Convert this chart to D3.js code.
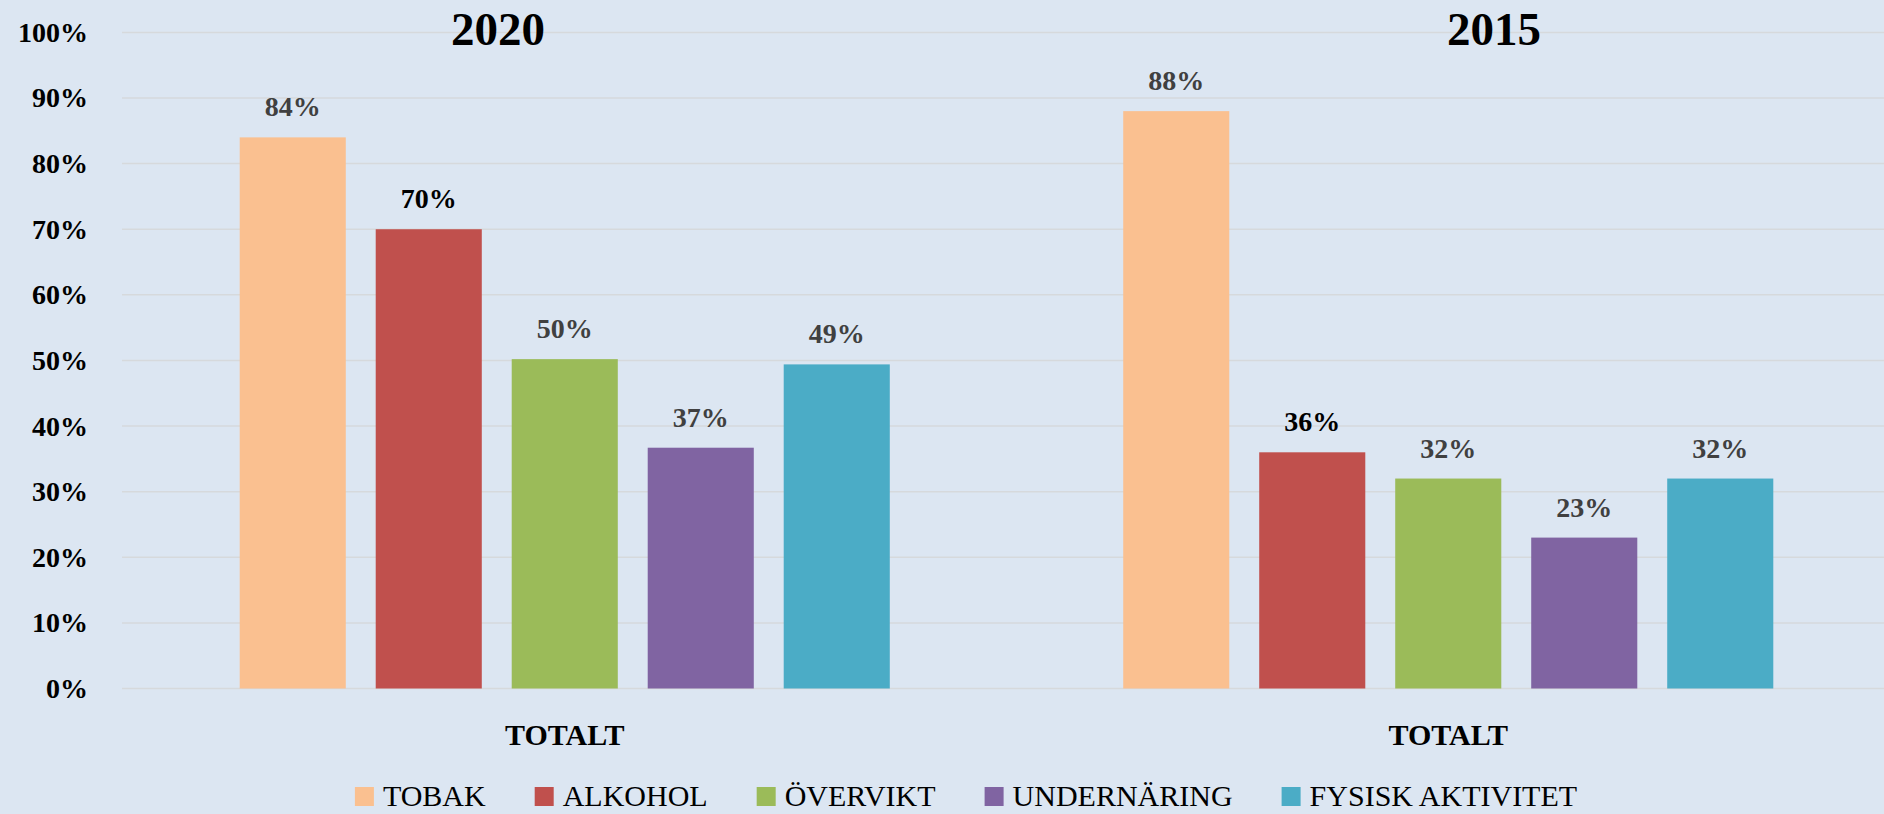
<!DOCTYPE html>
<html>
<head>
<meta charset="utf-8">
<script src="https://cdnjs.cloudflare.com/ajax/libs/d3/7.8.5/d3.min.js"></script>
<style>
body { margin: 0; background: #dce6f2; }
svg { display: block; font-family: "Liberation Serif", "DejaVu Serif", serif; }
</style>
</head>
<body>
<svg id="chart" width="1884" height="814"></svg>
<script>
var years = ["2020", "2015"]
var categories = ["TOTALT", "TOTALT"]
var series = ["TOBAK", "ALKOHOL", "ÖVERVIKT", "UNDERNÄRING", "FYSISK AKTIVITET"]
var colors = ["#fac090", "#c0504d", "#9bbb59", "#8064a2", "#4bacc6"]
var labelColors = ["#404040", "#000000", "#404040", "#404040", "#404040"]
var values2020 = [84, 70, 50.2, 36.7, 49.4]
var values2015 = [88, 36, 32, 23, 32]
var yTicks = [0, 10, 20, 30, 40, 50, 60, 70, 80, 90, 100]

var allValues = [values2020, values2015]

var svg = d3.select("#chart")
svg.append("rect").attr("width", 1884).attr("height", 814).attr("fill", "#dce6f2")

var y = d3.scaleLinear().domain([0, 100]).range([688.5, 32.4])
var x0 = d3.scaleBand().domain([0, 1]).range([123, 1890])
var x1 = d3.scaleBand().domain(series).range([0, 680]).paddingInner(0.22).paddingOuter(0.11)

// gridlines
svg.selectAll(".grid").data(yTicks).enter().append("line")
    .attr("x1", 122).attr("x2", 1884)
    .attr("y1", function (d) { return y(d) }).attr("y2", function (d) { return y(d) })
    .attr("stroke", "#d6d9dc").attr("stroke-width", 1.5)

// y axis labels
var yAxis = d3.axisLeft(y).tickValues(yTicks).tickSize(0).tickPadding(0)
    .tickFormat(function (d) { return d + "%" })
var ag = svg.append("g").attr("transform", "translate(88,0)").call(yAxis)
ag.select(".domain").remove()
ag.selectAll("text").attr("font-family", "Liberation Serif").attr("font-size", "28px")
    .attr("font-weight", "bold").attr("fill", "#000")

// bars + labels
allValues.forEach(function (vals, gi) {
    var gx = x0(gi) + x0.bandwidth() / 2 - 340
    var g = svg.append("g").attr("transform", "translate(" + gx + ",0)")
    g.selectAll("rect").data(vals).enter().append("rect")
        .attr("x", function (d, i) { return x1(series[i]) })
        .attr("width", x1.bandwidth())
        .attr("y", function (d) { return y(d) })
        .attr("height", function (d) { return y(0) - y(d) })
        .attr("fill", function (d, i) { return colors[i] })
    g.selectAll(".lbl").data(vals).enter().append("text")
        .attr("x", function (d, i) { return x1(series[i]) + x1.bandwidth() / 2 })
        .attr("y", function (d) { return y(d) - 21 })
        .attr("text-anchor", "middle").attr("font-size", "28px").attr("font-weight", "bold")
        .attr("fill", function (d, i) { return labelColors[i] })
        .text(function (d) { return d3.format(".0f")(d) + "%" })

    svg.append("text").text(categories[gi])
        .attr("x", x0(gi) + x0.bandwidth() / 2).attr("y", 745)
        .attr("text-anchor", "middle").attr("font-size", "30px").attr("font-weight", "bold").attr("fill", "#000")
})

// year titles
var titleX = [498, 1494]
svg.selectAll(".title").data(years).enter().append("text")
    .text(function (d) { return d })
    .attr("x", function (d, i) { return titleX[i] }).attr("y", 44.5)
    .attr("text-anchor", "middle").attr("font-size", "47px").attr("font-weight", "bold").attr("fill", "#000")

// legend
var lg = svg.append("g")
var lx = 0
series.forEach(function (s, i) {
    lg.append("rect").attr("x", lx).attr("y", 787).attr("width", 19).attr("height", 19).attr("fill", colors[i])
    var t = lg.append("text").text(s).attr("x", lx + 28).attr("y", 806)
        .attr("font-size", "30px").attr("fill", "#000")
    lx = lx + 28 + t.node().getComputedTextLength() + 49
})
var lw = lx - 49
lg.attr("transform", "translate(" + (966 - lw / 2) + ",0)")
</script>
</body>
</html>
